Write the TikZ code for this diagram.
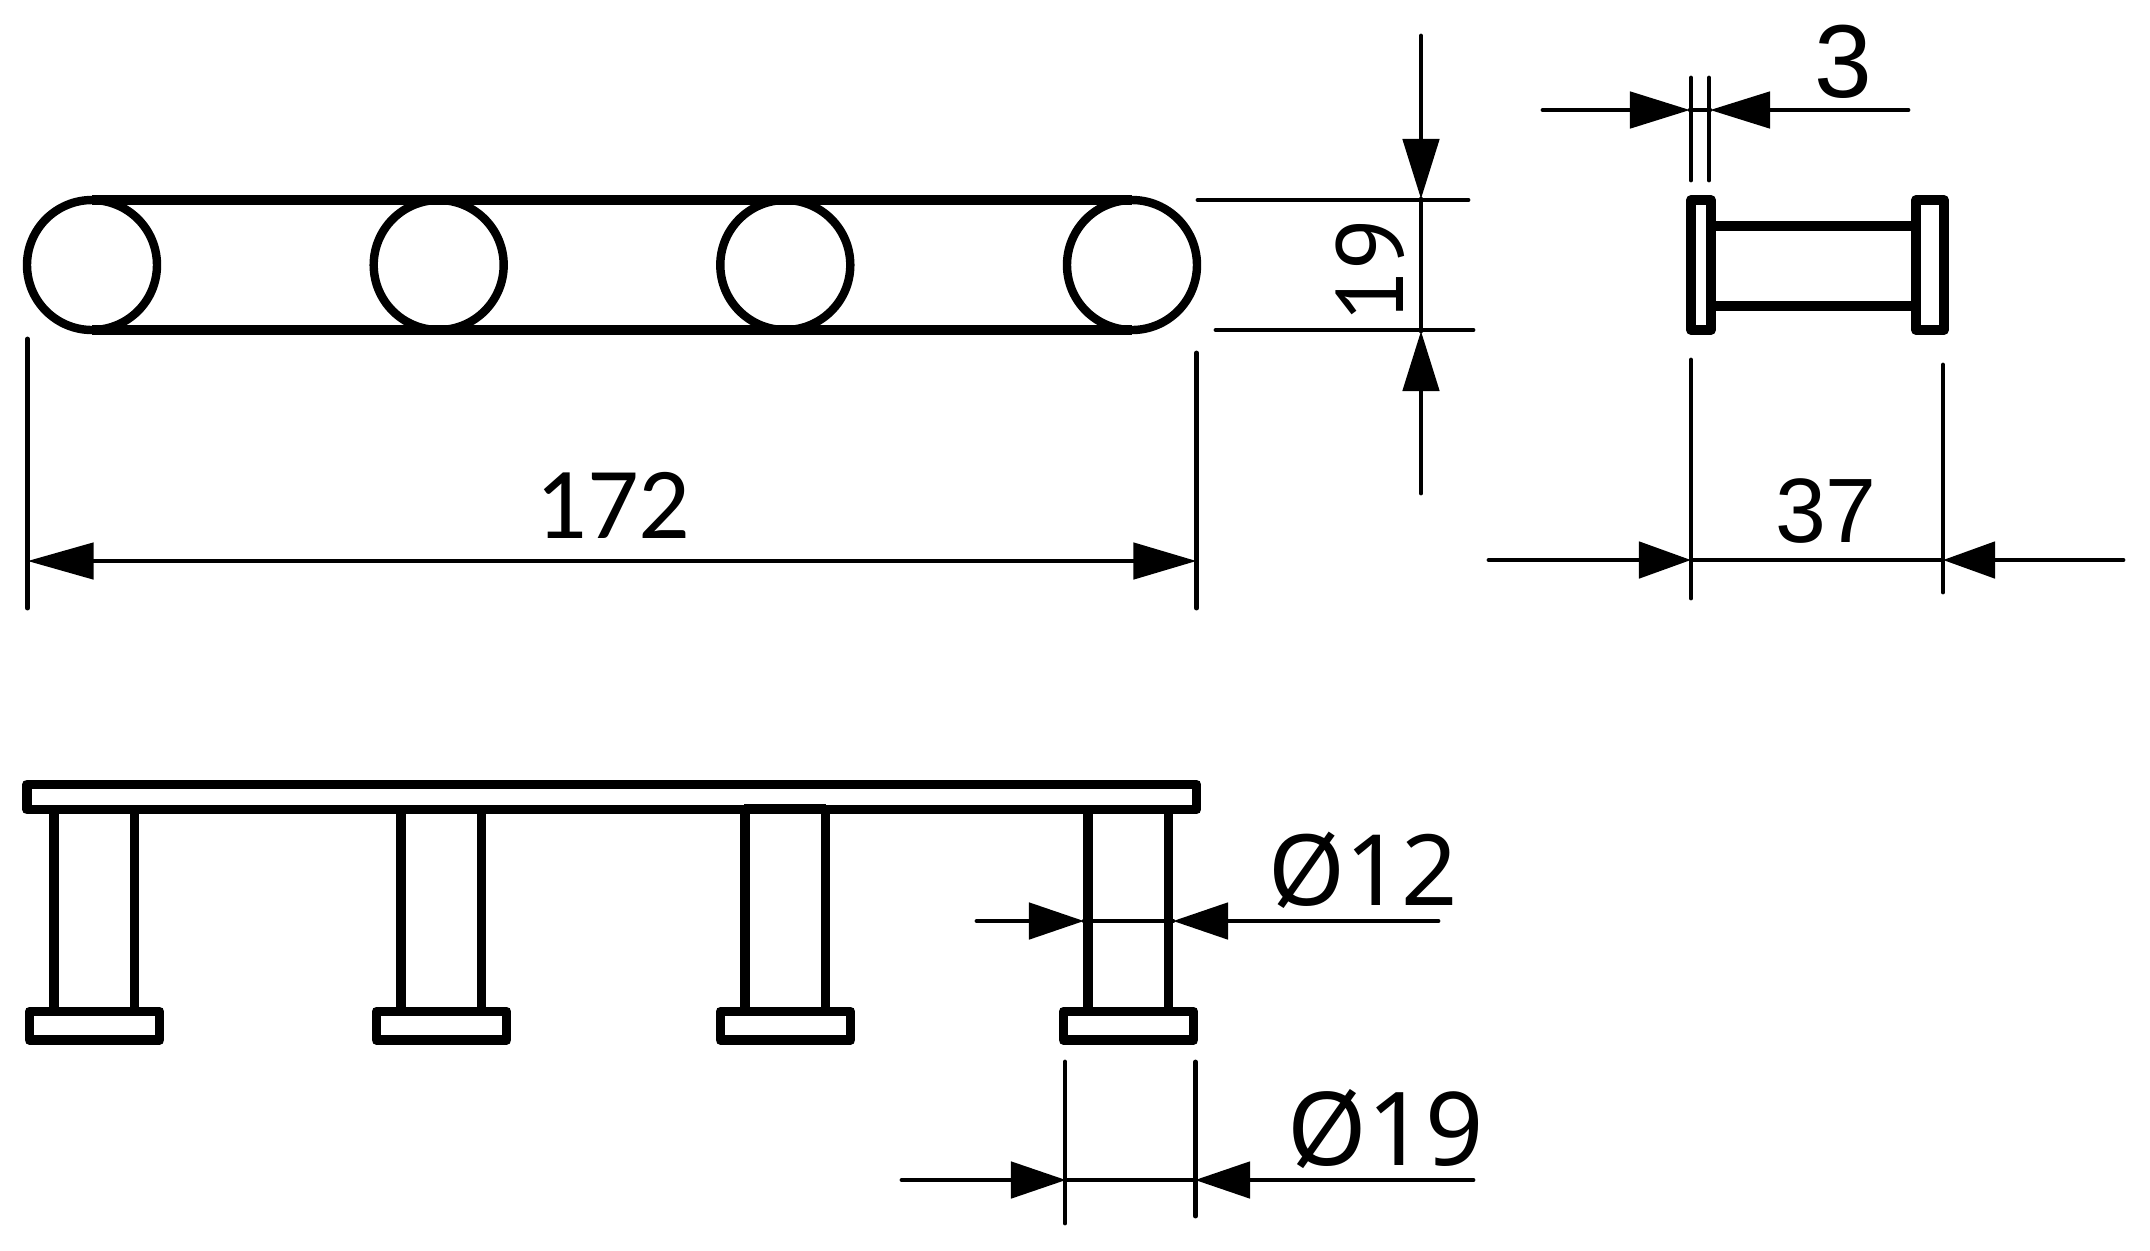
\documentclass[tikz,border=0pt]{standalone}
\usepackage{fontspec}
\setmainfont{Noto Sans}
\newfontfamily\slabfont{PT Sans}
\newfontfamily\basefont{Carlito}
\newfontfamily\roundfont{Liberation Sans}
\usetikzlibrary{arrows.meta}
\tikzset{
  part/.style={line width=2.8pt,line join=round,draw=black},
  thin part/.style={line width=2.6pt,draw=black},
  ring/.style={line width=2.4pt,draw=black},
  extline/.style={line width=1.4pt,line cap=round,draw=black},
  dimline/.style={line width=1.3pt,line cap=round,draw=black},
  tiplong/.style={-{Triangle[length=0.6cm,width=0.36cm]}},
  tipshort/.style={-{Triangle[length=0.55cm,width=0.36cm]}},
  tipmid/.style={-{Triangle[length=0.6cm,width=0.36cm]}},
  tipsmall/.style={-{Triangle[length=0.52cm,width=0.36cm]}},
  dimtext/.style={inner sep=0pt,font=\fontsize{28}{28}\selectfont},
  slabtext/.style={inner sep=0pt,font=\slabfont\fontsize{27}{27}\selectfont},
  basetext/.style={inner sep=0pt,font=\basefont\fontsize{29}{29}\selectfont},
  roundtext/.style={inner sep=0pt,font=\roundfont\fontsize{26}{26}\selectfont},
}
\begin{document}
\begin{tikzpicture}[x=0.01cm,y=-0.01cm]
\useasboundingbox (0,0) rectangle (2150,1250);
% top view
\draw[part] (92,200) -- (1132,200) (92,330) -- (1132,330);
\foreach \cx in {92,438.7,785.3,1132} \draw[ring] (\cx,265) circle (65);
% dim 172
\coordinate (e172a) at (27.5,339); \coordinate (e172b) at (27.5,608);
\coordinate (e172c) at (1196.5,353); \coordinate (e172d) at (1196.5,608);
\coordinate (d172a) at (27.5,561); \coordinate (d172b) at (1196.5,561);
\draw[extline] (e172a) -- (e172b);
\draw[extline] (e172c) -- (e172d);
\draw[dimline,{Triangle[length=0.66cm,width=0.36cm]}-{Triangle[length=0.63cm,width=0.36cm]}] (d172a) -- (d172b);
\node[basetext] (t172) at (613,505) {172};
% dim 19
\coordinate (e19a) at (1198,200); \coordinate (e19b) at (1468,200);
\coordinate (e19c) at (1216,330); \coordinate (e19d) at (1473,330);
\coordinate (d19t) at (1421,36); \coordinate (d19m) at (1421,199);
\coordinate (d19n) at (1421,331); \coordinate (d19b) at (1421,493);
\draw[extline] (e19a) -- (e19b);
\draw[extline] (e19c) -- (e19d);
\draw[extline] (d19m) -- (d19n);
\draw[extline,tiplong] (d19t) -- (d19m);
\draw[extline,tiplong] (d19b) -- (d19n);
\node[slabtext,rotate=90] (t19) at (1370,270) {19};
% side view
\draw[part] (1691,200) rectangle (1711,330);
\draw[part] (1916,200) rectangle (1944,330);
\coordinate (ra) at (1711,226); \coordinate (rb) at (1916,226);
\coordinate (rc) at (1711,306); \coordinate (rd) at (1916,306);
\draw[part] (ra) -- (rb) (rc) -- (rd);
% dim 3
\coordinate (e3a) at (1691,78); \coordinate (e3b) at (1691,180);
\coordinate (e3c) at (1709,78); \coordinate (e3d) at (1709,180);
\coordinate (d3a) at (1543,110); \coordinate (d3b) at (1690,110);
\coordinate (d3c) at (1908,110); \coordinate (d3d) at (1710,110);
\draw[extline] (e3a) -- (e3b);
\draw[extline] (e3c) -- (e3d);
\draw[dimline] (d3b) -- (d3d);
\draw[extline,tipmid] (d3a) -- (d3b);
\draw[extline,tipmid] (d3c) -- (d3d);
\node[roundtext,font=\roundfont\fontsize{29.5}{29.5}\selectfont] (t3) at (1843,62) {3};
% dim 37
\coordinate (e37a) at (1691,360); \coordinate (e37b) at (1691,598);
\coordinate (e37c) at (1943,365); \coordinate (e37d) at (1943,592);
\coordinate (d37a) at (1489,560); \coordinate (d37b) at (1691,560);
\coordinate (d37c) at (2123,560); \coordinate (d37d) at (1943,560);
\draw[extline] (e37a) -- (e37b);
\draw[extline] (e37c) -- (e37d);
\draw[extline] (d37b) -- (d37d);
\draw[extline,tipsmall] (d37a) -- (d37b);
\draw[extline,tipsmall] (d37c) -- (d37d);
\node[roundtext] (t37) at (1826,511) {37};
% front view
\draw[part] (27,784.5) rectangle (1196.5,809.5);
\foreach \a/\b in {54/134.5,401/481.3,745/825.5,1088/1168.5} {
  \draw[thin part] (\a,812) -- (\a,1009);
  \draw[thin part] (\b,812) -- (\b,1009);
}
\draw[part,line width=2.2pt] (744,808) -- (826,808);
\foreach \a/\b in {29.5/159.5,376.5/506.5,720.5/850.5,1063.5/1193.5}
  \draw[part] (\a,1011.5) rectangle (\b,1040);
% dim O12
\coordinate (d12a) at (977,921); \coordinate (d12b) at (1084,921);
\coordinate (d12c) at (1438,921); \coordinate (d12d) at (1173,921);
\draw[dimline] (d12b) -- (d12d);
\draw[extline,tipshort] (d12a) -- (d12b);
\draw[extline,tipshort] (d12c) -- (d12d);
\node[dimtext] (t12) at (1363,870) {Ø12};
% dim O19
\coordinate (e1a) at (1065,1062); \coordinate (e1b) at (1065,1223);
\coordinate (e1c) at (1195.5,1062); \coordinate (e1d) at (1195.5,1216);
\coordinate (d1a) at (902,1180); \coordinate (d1b) at (1066,1180);
\coordinate (d1c) at (1473,1180); \coordinate (d1d) at (1195,1180);
\draw[extline] (e1a) -- (e1b);
\draw[extline] (e1c) -- (e1d);
\draw[dimline] (d1b) -- (d1d);
\draw[extline,tipshort] (d1a) -- (d1b);
\draw[extline,tipshort] (d1c) -- (d1d);
\node[dimtext,font=\fontsize{29}{29}\selectfont] (t1) at (1386,1129) {Ø19};
\end{tikzpicture}
\end{document}
